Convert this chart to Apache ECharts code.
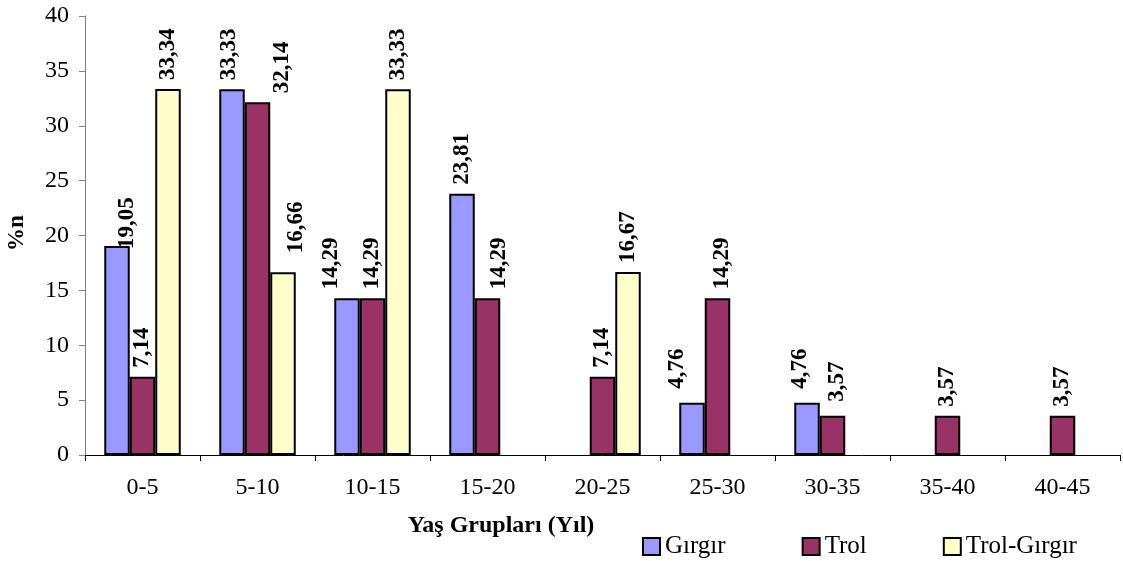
<!DOCTYPE html>
<html>
<head>
<meta charset="utf-8">
<script src="https://cdn.jsdelivr.net/npm/echarts@6/dist/echarts.min.js"></script>
<style>html,body{margin:0;padding:0;background:#fff}#c{width:1123px;height:561px}</style>
</head>
<body>
<div id="c"></div>
<script>
const categories = ['0-5','5-10','10-15','15-20','20-25','25-30','30-35','35-40','40-45'];
const girgir = [19.05, 33.33, 14.29, 23.81, 0, 4.76, 4.76, 0, 0];
const trol = [7.14, 32.14, 14.29, 14.29, 7.14, 14.29, 3.57, 3.57, 3.57];
const trolGirgir = [33.34, 16.66, 33.33, 0, 16.67, 0, 0, 0, 0];
const seriesNames = ['Gırgır', 'Trol', 'Trol-Gırgır'];
const yTicks = [0, 5, 10, 15, 20, 25, 30, 35, 40];

// label nudges: [screen shift right, extra lift up] in pixels, keyed "series-category"
const labelNudge = {
  '0-0': [10, -12], '0-1': [-3, 0], '1-1': [25, 0], '2-1': [13, 10], '0-2': [-16, 0],
  '1-3': [12, 0], '0-5': [-15, 5], '1-5': [5, 0], '0-6': [-7, 5], '1-6': [5, 5]
};

const FONT = '"Liberation Serif", "Times New Roman", serif';
const colors = ['#9999FF', '#993366', '#FFFFCC'];
const all = [girgir, trol, trolGirgir];

const series = all.map((arr, si) => ({
  name: seriesNames[si],
  type: 'bar',
  barWidth: 25.5,
  barGap: '0%',
  itemStyle: { color: colors[si], borderColor: '#000', borderWidth: 2 },
  data: arr.map((v, ci) => {
    if (v === 0) return null;
    const n = labelNudge[si + '-' + ci] || [0, 0];
    // rotated label: local x points up, local y points right
    return { value: v, label: { offset: [n[1], n[0]] } };
  }),
  label: {
    show: true,
    position: 'top',
    rotate: 90,
    align: 'left',
    verticalAlign: 'middle',
    distance: 9,
    fontFamily: FONT,
    fontWeight: 'bold',
    fontSize: 23,
    color: '#000',
    formatter: p => p.value.toFixed(2).replace('.', ',')
  }
}));

const chart = echarts.init(document.getElementById('c'));
chart.setOption({
  animation: false,
  backgroundColor: '#fff',
  color: colors,
  grid: { left: 85, right: 3, top: 16, bottom: 106, containLabel: false },
  title: [
    { text: 'Yaş Grupları (Yıl)', left: 496, top: 509, textAlign: 'center',
      textStyle: { fontFamily: FONT, fontWeight: 'bold', fontSize: 24, color: '#000' } }
  ],
  graphic: [{
    type: 'text', x: 17, y: 233, rotation: Math.PI / 2,
    style: { text: '%n', fontFamily: FONT, fontWeight: 'bold', fontSize: 23, fill: '#000',
             align: 'center', verticalAlign: 'middle' }
  }],
  legend: {
    left: 637, top: 529, itemWidth: 17, itemHeight: 17, itemGap: 76,
    icon: 'rect',
    itemStyle: { borderColor: '#000', borderWidth: 2 },
    textStyle: { fontFamily: FONT, fontSize: 25, color: '#000' },
    data: seriesNames
  },
  xAxis: {
    type: 'category',
    data: categories,
    axisLine: { lineStyle: { color: '#000', width: 1 } },
    axisTick: { show: true, length: 6, lineStyle: { color: '#000' } },
    axisLabel: { fontFamily: FONT, fontSize: 24, color: '#000', margin: 21 }
  },
  yAxis: {
    type: 'value',
    min: yTicks[0], max: yTicks[yTicks.length - 1], interval: 5,
    splitLine: { show: false },
    axisLine: { show: true, lineStyle: { color: '#808080', width: 1 } },
    axisTick: { show: true, length: 6, lineStyle: { color: '#808080' } },
    axisLabel: { fontFamily: FONT, fontSize: 24, color: '#000', margin: 16 }
  },
  series: series
});
</script>
</body>
</html>
